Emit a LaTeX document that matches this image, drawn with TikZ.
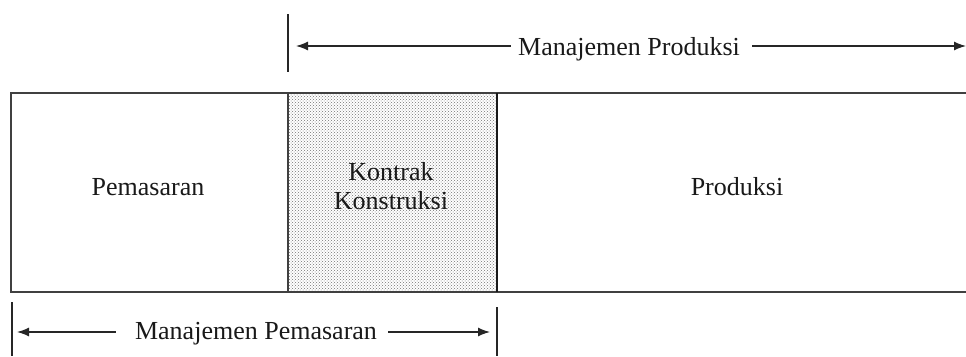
\documentclass[tikz,border=0pt]{standalone}
\usepackage{fontspec}
\setmainfont{Liberation Serif}
\usetikzlibrary{arrows.meta,patterns}
\begin{document}
\begin{tikzpicture}[x=1pt,y=-1pt,
  frame/.style={line width=1.6pt,draw=black!75},
  bar/.style={line width=1.1pt,draw=black!85},
  arr/.style={line width=1.3pt,draw=black!85,-{Latex[length=12pt,width=9pt]}},
  lbl/.style={font=\fontsize{26}{30}\selectfont,inner sep=0pt,anchor=base,text=black!90},
  shaded/.style={pattern=crosshatch dots,pattern color=black!55}]
\useasboundingbox (0,0) rectangle (966,356);
% main band
\fill[white] (11,93) rectangle (966,292);
\path[shaded] (288,93) rectangle (497,292);
\draw[frame] (966,93) -- (11,93) -- (11,292) -- (966,292);
\draw[frame] (288,93) -- (288,292);
\draw[line width=2pt,draw=black!90] (497,93) -- (497,292);
% labels in band
\node[lbl] (pem) at (148,195) {Pemasaran};
\node[lbl] (pro) at (737,195) {Produksi};
\node[lbl] (kon1) at (391,180) {Kontrak};
\node[lbl] (kon2) at (391,209) {Konstruksi};
% top dimension
\draw[bar] (288,14) -- (288,72);
\node[lbl] (mp) at (629,55) {Manajemen Produksi};
\coordinate (mpL) at (296,46);
\coordinate (mpR) at (966,46);
\draw[arr] ([xshift=-7pt,yshift=9pt]mp.base west) -- (mpL);
\draw[arr] ([xshift=12pt,yshift=9pt]mp.base east) -- (mpR);
% bottom dimension
\draw[bar] (12,302) -- (12,356);
\draw[bar] (497,307) -- (497,356);
\node[lbl] (mpm) at (256,339) {Manajemen Pemasaran};
\coordinate (mpmL) at (17,332);
\coordinate (mpmR) at (490,332);
\draw[arr] ([xshift=-19pt,yshift=7pt]mpm.base west) -- (mpmL);
\draw[arr] ([xshift=11pt,yshift=7pt]mpm.base east) -- (mpmR);
\end{tikzpicture}
\end{document}
